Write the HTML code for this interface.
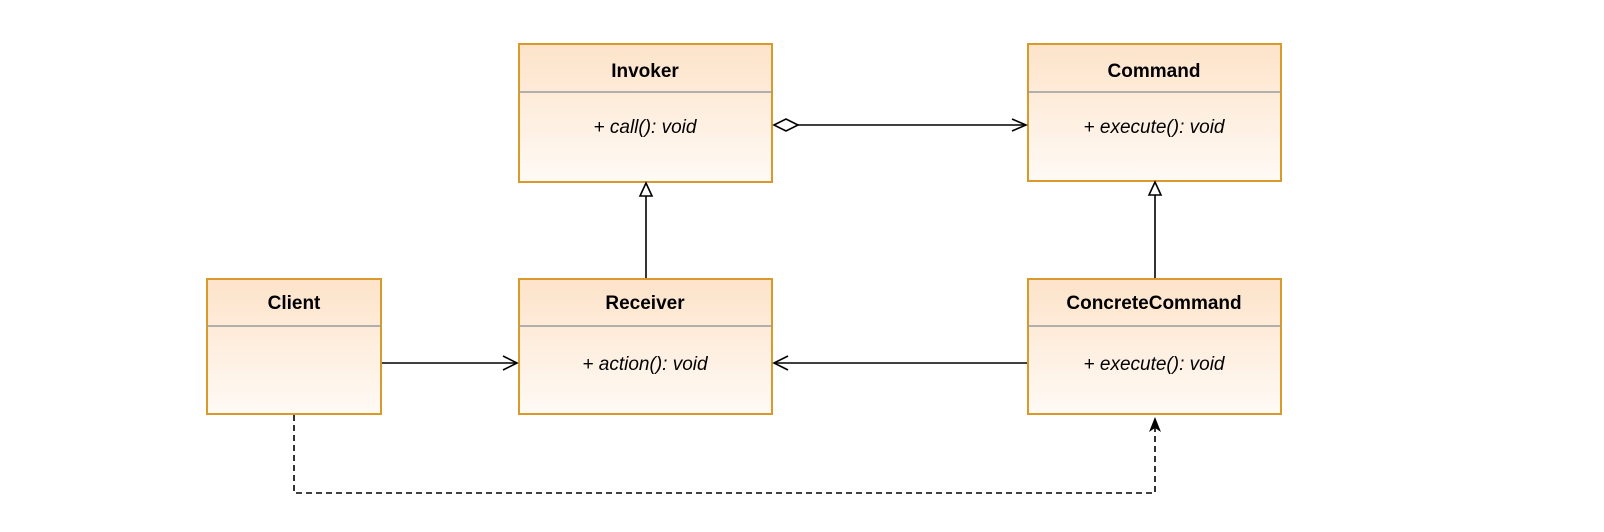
<!DOCTYPE html>
<html><head><meta charset="utf-8"><style>
html,body{margin:0;padding:0;background:#fff;}
svg{display:block;}
text{font-family:"Liberation Sans",sans-serif;}
.t{font-weight:bold;font-size:19px;}
.m{font-style:italic;font-size:19px;}
</style></head><body>
<svg width="1604" height="532" viewBox="0 0 1604 532" xmlns="http://www.w3.org/2000/svg">
<defs>
<linearGradient id="g" x1="0" y1="0" x2="0" y2="1">
<stop offset="0" stop-color="#fde3c9"/><stop offset="1" stop-color="#fffaf5"/>
</linearGradient>
</defs>
<g stroke="#d99a2b" stroke-width="2" fill="url(#g)">
<rect x="519" y="44" width="253" height="138"/>
<rect x="1028" y="44" width="253" height="137"/>
<rect x="207" y="279" width="174" height="135"/>
<rect x="519" y="279" width="253" height="135"/>
<rect x="1028" y="279" width="253" height="135"/>
</g>
<g stroke="#999" stroke-width="1.5">
<line x1="519" y1="92" x2="772" y2="92"/>
<line x1="1028" y1="92" x2="1281" y2="92"/>
<line x1="207" y1="326" x2="381" y2="326"/>
<line x1="519" y1="326" x2="772" y2="326"/>
<line x1="1028" y1="326" x2="1281" y2="326"/>
</g>
<g text-anchor="middle" fill="#000">
<text class="t" x="645" y="77">Invoker</text>
<text class="m" x="645" y="133">+ call(): void</text>
<text class="t" x="1154" y="77">Command</text>
<text class="m" x="1154" y="133">+ execute(): void</text>
<text class="t" x="294" y="309">Client</text>
<text class="t" x="645" y="309">Receiver</text>
<text class="m" x="645" y="370">+ action(): void</text>
<text class="t" x="1154" y="309">ConcreteCommand</text>
<text class="m" x="1154" y="370">+ execute(): void</text>
</g>
<g stroke="#000" stroke-width="1.6" fill="none">
<!-- aggregation -->
<path d="M798 125 L1026 125"/>
<path d="M774 125 L786 119 L798 125 L786 131 Z" fill="#fff"/>
<path d="M1012 119 L1026 125 L1012 131"/>
<!-- inheritance -->
<line x1="646" y1="278" x2="646" y2="196"/>
<path d="M640 196 L646 183 L652 196 Z" fill="#fff"/>
<line x1="1155" y1="278" x2="1155" y2="195"/>
<path d="M1149 195 L1155 182 L1161 195 Z" fill="#fff"/>
<!-- client -> receiver -->
<path d="M382 363 L517 363"/>
<path d="M503 356 L517 363 L503 370"/>
<!-- concrete -> receiver -->
<path d="M1027 363 L774 363"/>
<path d="M788 356 L774 363 L788 370"/>
<!-- dashed -->
<path d="M294 415 L294 493 L1155 493 L1155 425" stroke-dasharray="6,4"/>
</g>
<path d="M1149 432 L1155 417 L1161 432 L1155 428 Z" fill="#000"/>
</svg>
</body></html>
